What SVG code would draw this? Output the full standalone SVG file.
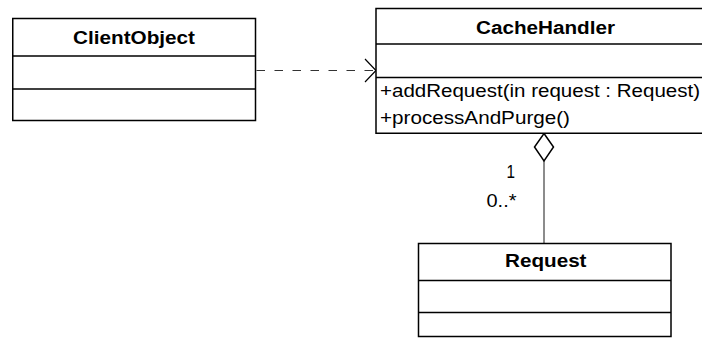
<svg xmlns="http://www.w3.org/2000/svg" width="702" height="347" viewBox="0 0 702 347">
  <style>
    .box { fill: #ffffff; stroke: #000000; stroke-width: 1.5; }
    .div { stroke: #000000; stroke-width: 1.5; }
    .title { font-family: "Liberation Sans", Arial, sans-serif; font-size: 18.7px; font-weight: bold; fill: #000000; }
    .member { font-family: "Liberation Sans", Arial, sans-serif; font-size: 18.7px; fill: #000000; }
    .mult { font-family: "Liberation Sans", Arial, sans-serif; font-size: 18.7px; fill: #000000; }
    .dep { fill: none; stroke: #333333; stroke-width: 1.2; stroke-dasharray: 8.5 9.5; }
    .arm { fill: none; stroke: #000000; stroke-width: 1.2; }
    .assoc { fill: none; stroke: #666666; stroke-width: 1.5; }
    .diamond { fill: #ffffff; stroke: #000000; stroke-width: 1.5; }
  </style>

  <!-- connectors -->
  <g id="connectors">
    <!-- dependency: ClientObject uses CacheHandler -->
    <line class="dep" x1="256.5" y1="70.5" x2="375" y2="70.5"/>
    <polyline class="arm" points="365,59 376,70.5 365,82"/>
    <!-- aggregation: CacheHandler holds Requests -->
    <line class="assoc" x1="544" y1="161" x2="544" y2="243"/>
    <polygon class="diamond" points="544,133.5 553.5,147 544,161 534.5,147"/>
    <text class="mult" x="506.5" y="178" textLength="8.5" lengthAdjust="spacingAndGlyphs">1</text>
    <text class="mult" x="486.5" y="206.5" textLength="30" lengthAdjust="spacingAndGlyphs">0..*</text>
  </g>

  <!-- ClientObject class -->
  <g id="ClientObject">
    <rect class="box" x="12.75" y="18.5" width="242.75" height="102"/>
    <line class="div" x1="12.75" y1="56" x2="255.5" y2="56"/>
    <line class="div" x1="12.75" y1="89" x2="255.5" y2="89"/>
    <text class="title" x="73" y="43.5" textLength="122" lengthAdjust="spacingAndGlyphs">ClientObject</text>
  </g>

  <!-- CacheHandler class -->
  <g id="CacheHandler">
    <rect class="box" x="376" y="8.5" width="340" height="124.75"/>
    <line class="div" x1="376" y1="44" x2="716" y2="44"/>
    <line class="div" x1="376" y1="77.5" x2="716" y2="77.5"/>
    <text class="title" x="476" y="33.5" textLength="139" lengthAdjust="spacingAndGlyphs">CacheHandler</text>
    <text class="member" x="380" y="96.5" textLength="320" lengthAdjust="spacingAndGlyphs">+addRequest(in request : Request)</text>
    <text class="member" x="380" y="124" textLength="190" lengthAdjust="spacingAndGlyphs">+processAndPurge()</text>
  </g>

  <!-- Request class -->
  <g id="Request">
    <rect class="box" x="418.5" y="243.5" width="252.5" height="93"/>
    <line class="div" x1="418.5" y1="280.5" x2="671" y2="280.5"/>
    <line class="div" x1="418.5" y1="312.5" x2="671" y2="312.5"/>
    <text class="title" x="505" y="267" textLength="81.5" lengthAdjust="spacingAndGlyphs">Request</text>
  </g>
</svg>
